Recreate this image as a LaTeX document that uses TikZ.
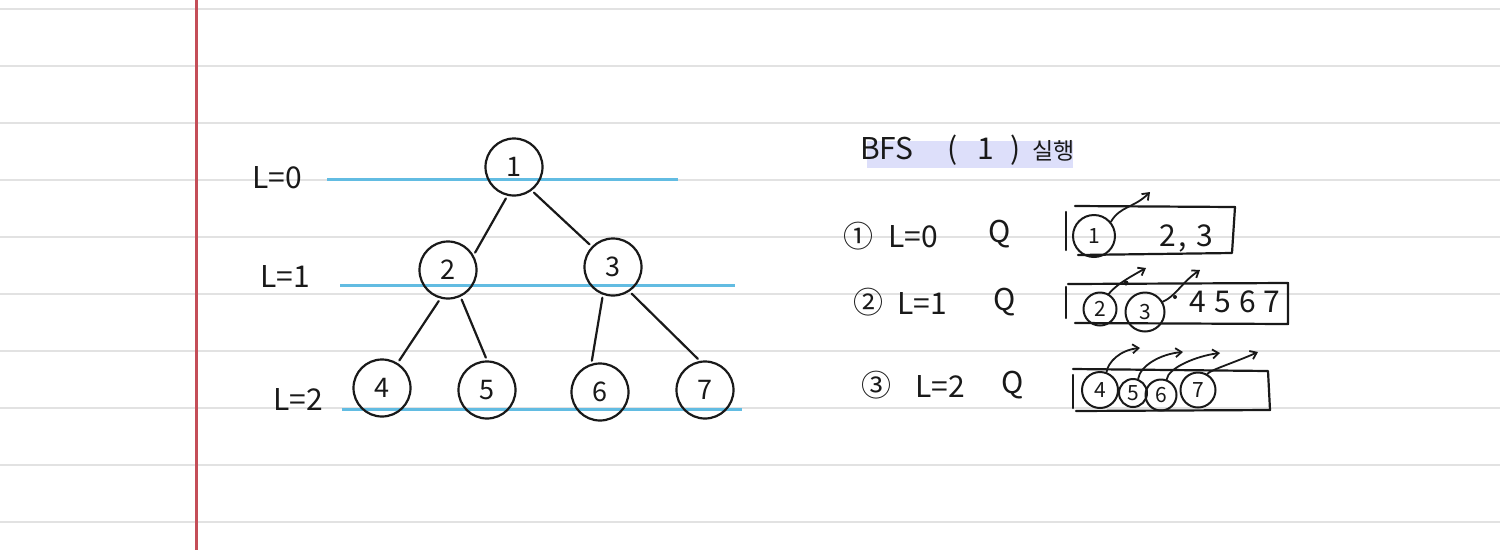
\documentclass[tikz,border=0pt]{standalone}
\usepackage{fontspec}
\setmainfont{Noto Sans CJK KR}
\usetikzlibrary{arrows.meta}
\definecolor{ruling}{RGB}{226,226,226}
\definecolor{marginred}{RGB}{196,78,88}
\definecolor{levelblue}{RGB}{98,188,226}
\definecolor{highlight}{RGB}{221,223,250}
\definecolor{ink}{RGB}{25,25,25}
\begin{document}
\begin{tikzpicture}[x=1pt,y=-1pt,
  pen/.style={draw=ink, line width=2.2pt, line cap=round, line join=round},
  vtx/.style={circle, draw=ink, line width=2.2pt, minimum size=57pt, inner sep=0pt,
    text=ink, font=\fontsize{27}{27}\selectfont},
  qv/.style={circle, draw=ink, line width=2pt, inner sep=0pt,
    text=ink, font=\fontsize{21}{21}\selectfont},
  lbl/.style={text=ink, inner sep=0pt, font=\fontsize{30}{30}\selectfont},
  edge/.style={pen, shorten >=3pt, shorten <=3pt},
  level/.style={draw=levelblue, line width=3pt},
  qarrow/.style={draw=ink, line width=1.8pt, line cap=round, -{Straight Barb[length=6pt,width=9pt]}}
]
% page
\fill[white] (0,0) rectangle (1500,550);
\useasboundingbox (0,0) rectangle (1500,550);
\foreach \k in {0,...,9} \draw[ruling, line width=2pt] (0,9+57*\k) -- (1500,9+57*\k);
\draw[marginred, line width=3pt] (196,0) -- (196,550);

% level guides
\draw[level] (327,179) -- (678,179);
\draw[level] (340,285) -- (735,285);
\draw[level] (342,409) -- (742,409);
\node[lbl] (l0) at (277,178) {L=0};
\node[lbl] (l1) at (285,276) {L=1};
\node[lbl] (l2) at (298,399) {L=2};

% tree
\node[vtx] (n1) at (514,167) {1};
\node[vtx] (n2) at (448,270) {2};
\node[vtx] (n3) at (613,267) {3};
\node[vtx] (n4) at (382,388) {4};
\node[vtx] (n5) at (487,390) {5};
\node[vtx] (n6) at (600,392) {6};
\node[vtx] (n7) at (705,390) {7};
\draw[edge] (n1.257) -- (n2.30);
\draw[edge] (n1.307) -- (n3.136);
\draw[edge] (n2.255) -- (n4.58);
\draw[edge] (n2.295) -- (n5.90);
\draw[edge] (n3.250) -- (n6.107);
\draw[edge] (n3.304) -- (n7.100);

% title
\fill[highlight] (867,141) rectangle (1073,168);
\node[text=ink, inner sep=0pt, anchor=west, font=\fontsize{30}{30}\selectfont] (title) at (860,150)
  {BFS\hspace{34pt}(\hspace{20pt}1\hspace{16pt})\hspace{12pt}{\fontsize{23}{23}\selectfont 실행}};

% step 1
\node[lbl] (s1) at (858,236) {①};
\node[lbl] (s1l) at (913,237) {L=0};
\node[lbl] (s1q) at (1000,234) {Q};
\draw[pen] (1066,212) -- (1066,250);
\draw[pen] (1075,206) -- (1235,207) -- (1232,253) -- (1078,255);
\node[qv, minimum size=42pt] (q1) at (1094,236) {1};
\node[lbl] (r1) at (1186,238) {2\hspace{3pt},\hspace{9pt}3};
\coordinate (t1) at (1150,192);
\draw[qarrow] (q1.40) .. controls (1120,206) and (1134,208) .. (t1);

% step 2
\node[lbl] (s2) at (868,302) {②};
\node[lbl] (s2l) at (922,303) {L=1};
\node[lbl] (s2q) at (1005,302) {Q};
\draw[pen] (1066,287) -- (1066,318);
\draw[pen] (1068,284) -- (1288,283) -- (1288,324) -- (1075,323);
\node[qv, minimum size=33pt] (q2) at (1100,309) {2};
\node[qv, minimum size=39pt] (q3) at (1145,312) {3};
\node[lbl] (r2) at (1235,302) {4\hspace{8pt}5\hspace{8pt}6\hspace{8pt}7};
\coordinate (t2) at (1146,268);
\coordinate (t3) at (1200,270);
\draw[qarrow] (q2.60) .. controls (1116,285) and (1128,278) .. (t2);
\draw[qarrow] (q3.30) .. controls (1176,296) and (1182,282) .. (t3);
\fill[ink] (1126,283) circle (2.5pt);
\fill[ink] (1175,297) circle (2pt);

% step 3
\node[lbl] (s3) at (876,385) {③};
\node[lbl] (s3l) at (940,386) {L=2};
\node[lbl] (s3q) at (1013,385) {Q};
\draw[pen] (1073,375) -- (1073,408);
\draw[pen] (1073,369) -- (1268,371) -- (1270,410) -- (1076,411);
\node[qv, minimum size=36pt] (q4) at (1100,390) {4};
\node[qv, minimum size=28pt] (q5) at (1133,393) {5};
\node[qv, minimum size=31pt] (q6) at (1161,395) {6};
\node[qv, minimum size=35pt] (q7) at (1198,390) {7};
\coordinate (t4) at (1140,348);
\coordinate (t5) at (1183,352);
\coordinate (t6) at (1220,353);
\coordinate (t7) at (1258,352);
\draw[qarrow] (q4.70) .. controls (1108,362) and (1120,350) .. (t4);
\draw[qarrow] (q5.70) .. controls (1140,366) and (1160,354) .. (t5);
\draw[qarrow] (q6.70) .. controls (1168,368) and (1196,356) .. (t6);
\draw[qarrow] (q7.60) .. controls (1210,370) and (1236,362) .. (t7);
\end{tikzpicture}
\end{document}
